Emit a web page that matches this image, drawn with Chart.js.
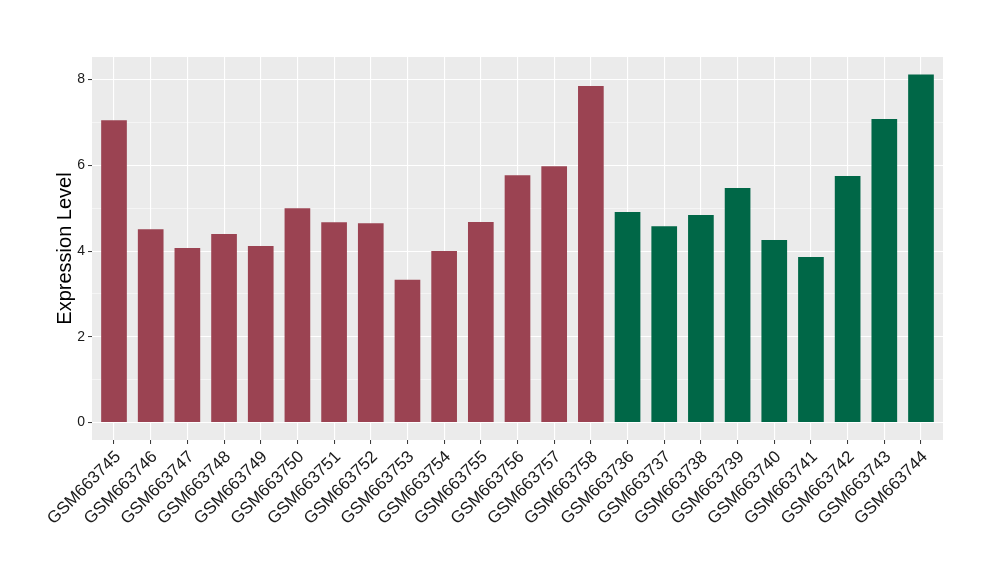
<!DOCTYPE html>
<html><head><meta charset="utf-8">
<script src="https://cdn.jsdelivr.net/npm/chart.js@4.4.1/dist/chart.umd.min.js"></script>
<style>html,body{margin:0;padding:0;background:#fff}#wrap{width:1000px;height:580px}</style>
</head><body><div id="wrap"><canvas id="c" width="1000" height="580"></canvas></div>
<script>
const categories = ["GSM663745","GSM663746","GSM663747","GSM663748","GSM663749","GSM663750","GSM663751","GSM663752","GSM663753","GSM663754","GSM663755","GSM663756","GSM663757","GSM663758","GSM663736","GSM663737","GSM663738","GSM663739","GSM663740","GSM663741","GSM663742","GSM663743","GSM663744"];
const values = [7.05,4.51,4.07,4.40,4.12,5.00,4.67,4.65,3.33,4.00,4.68,5.77,5.98,7.85,4.91,4.58,4.84,5.47,4.26,3.86,5.75,7.08,8.12];
const groups = ["A","A","A","A","A","A","A","A","A","A","A","A","A","A","B","B","B","B","B","B","B","B","B"];
const groupColors = {A:"#9B4352", B:"#006747"};
const yMajorTicks = [0,2,4,6,8];
const yAllTicks = [0,1,2,3,4,5,6,7,8];

const panelBg = {
  id:'panelBg',
  beforeDraw(chart){
    const {ctx, chartArea:a} = chart;
    ctx.save(); ctx.fillStyle = '#EBEBEB';
    ctx.fillRect(a.left, a.top, a.right-a.left, a.bottom-a.top);
    ctx.restore();
  }
};

const textColor = '#1A1A1A';
new Chart(document.getElementById('c'), {
  type:'bar',
  data:{
    datasets:[{
      data: values.map((v,i)=>({x:i, y:v})),
      backgroundColor: groups.map(g=>groupColors[g]),
      borderWidth:0,
      barPercentage:0.7,
      categoryPercentage:1.0
    }]
  },
  options:{
    responsive:false,
    animation:false,
    devicePixelRatio:1,
    layout:{padding:{top:57,right:57,left:0,bottom:0}},
    plugins:{legend:{display:false}, tooltip:{enabled:false}},
    scales:{
      x:{
        type:'linear',
        offset:false,
        min:-0.6, max:categories.length-1+0.6,
        afterBuildTicks(scale){ scale.ticks = categories.map((c,i)=>({value:i})); },
        afterFit(scale){ scale.height = 140; },
        border:{display:false},
        grid:{offset:false, color:'#FFFFFF', lineWidth:1.1, tickColor:'#333333', tickLength:4, tickWidth:1},
        ticks:{
          autoSkip:false, maxRotation:45, minRotation:45, padding:3, labelOffset:4,
          color:textColor, font:{family:'"Liberation Sans", Arial, sans-serif', size:17},
          callback:(v)=>categories[v]
        }
      },
      y:{
        type:'linear',
        min:-0.406, max:8.526,
        afterBuildTicks(scale){ scale.ticks = yAllTicks.map(v=>({value:v})); },
        afterFit(scale){ scale.width = 92; },
        border:{display:false},
        grid:{
          color:'#FFFFFF',
          lineWidth:(ctx)=> (yMajorTicks.includes(ctx.tick && ctx.tick.value) ? 1.1 : 0.5),
          tickColor:(ctx)=> (yMajorTicks.includes(ctx.tick && ctx.tick.value) ? '#333333' : 'rgba(0,0,0,0)'),
          tickLength:4, tickWidth:1
        },
        ticks:{
          padding:3, color:textColor,
          font:{family:'"Liberation Sans", Arial, sans-serif', size:14},
          callback:(v)=> (yMajorTicks.includes(v) ? String(v) : '')
        },
        title:{
          display:true, text:'Expression Level', color:'#000',
          font:{family:'"Liberation Sans", Arial, sans-serif', size:20},
          padding:{top:53,bottom:0}
        }
      }
    }
  },
  plugins:[panelBg]
});
</script></body></html>
